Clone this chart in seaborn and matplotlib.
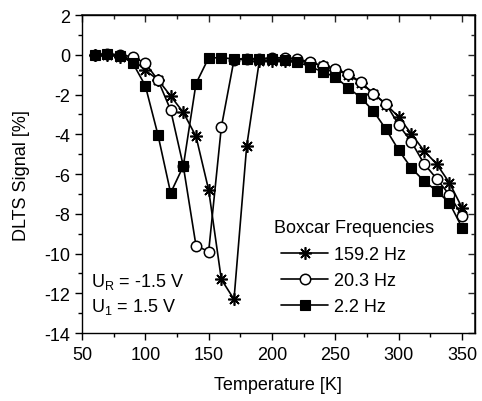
import matplotlib
matplotlib.use("Agg")
import matplotlib.pyplot as plt
from matplotlib.lines import Line2D
from matplotlib.ticker import MultipleLocator
import numpy as np
import pandas as pd
import seaborn as sns

# Temperature scan [K]
temperature = list(range(60, 351, 10))

# DLTS signal [%] for each boxcar frequency
signal_159 = [0, 0, -0.1, -0.22, -0.78, -1.25, -2.07, -2.9, -4.1, -6.8,
              -11.3, -12.3, -4.6, -0.3, -0.3, -0.3, -0.3, -0.4, -0.55, -0.75,
              -1.0, -1.4, -1.95, -2.5, -3.13, -3.98, -4.83, -5.5, -6.44, -7.7]
signal_20 = [0, 0.05, 0, -0.1, -0.42, -1.27, -2.78, -5.6, -9.6, -9.9,
             -3.64, -0.25, -0.2, -0.2, -0.15, -0.15, -0.21, -0.36, -0.56, -0.7,
             -0.96, -1.37, -1.95, -2.47, -3.53, -4.38, -5.48, -6.24, -7.05, -8.1]
signal_2 = [0, 0.05, -0.05, -0.4, -1.55, -4.03, -6.95, -5.6, -1.45, -0.15,
            -0.15, -0.2, -0.2, -0.2, -0.2, -0.25, -0.35, -0.6, -0.85, -1.12,
            -1.65, -2.15, -2.83, -3.75, -4.8, -5.7, -6.35, -6.85, -7.45, -8.7]

series_labels = ["159.2 Hz", "20.3 Hz", "2.2 Hz"]
legend_title = "Boxcar Frequencies"

sns.set_theme(style="ticks")
plt.rcParams["font.family"] = ["Liberation Sans", "DejaVu Sans"]
plt.rcParams["axes.unicode_minus"] = False
plt.rcParams["text.color"] = "black"
plt.rcParams["axes.labelcolor"] = "black"
plt.rcParams["mathtext.fontset"] = "custom"
plt.rcParams["mathtext.rm"] = "Liberation Sans"
plt.rcParams["mathtext.it"] = "Liberation Sans"

fig = plt.figure(figsize=(4.82, 4.02), dpi=100)
ax = fig.add_axes([0.170, 0.169, 0.815, 0.791])

styles = {
    "159.2 Hz": dict(marker=(8, 2, 0), markersize=9, markeredgewidth=1.2,
                     markerfacecolor="black", markeredgecolor="black"),
    "20.3 Hz": dict(marker="o", markersize=7.5, markeredgewidth=1.1,
                    markerfacecolor="white", markeredgecolor="black"),
    "2.2 Hz": dict(marker="s", markersize=7, markeredgewidth=0.8,
                   markerfacecolor="black", markeredgecolor="black"),
}

data = {"159.2 Hz": signal_159, "20.3 Hz": signal_20, "2.2 Hz": signal_2}
for label in series_labels:
    df = pd.DataFrame({"T": temperature, "S": data[label]})
    sns.lineplot(data=df, x="T", y="S", ax=ax, color="black", linewidth=1.2,
                 legend=False, **styles[label])

ax.set_xlim(50, 360)
ax.set_ylim(-14, 2)
ax.xaxis.set_major_locator(MultipleLocator(50))
ax.xaxis.set_minor_locator(MultipleLocator(25))
ax.yaxis.set_major_locator(MultipleLocator(2))
ax.yaxis.set_minor_locator(MultipleLocator(1))

ax.tick_params(which="both", direction="out", colors="black", labelsize=13,
               width=1.0, top=False, right=False)
ax.tick_params(which="major", length=5)
ax.tick_params(which="minor", length=3)
ax.tick_params(axis="x", pad=4)

# Mirrored inward ticks on top and right
sec_x = ax.secondary_xaxis("top")
sec_x.xaxis.set_major_locator(MultipleLocator(50))
sec_x.xaxis.set_minor_locator(MultipleLocator(25))
sec_x.tick_params(which="both", direction="in", labeltop=False, width=1.0)
sec_x.tick_params(which="major", length=5)
sec_x.tick_params(which="minor", length=3)
sec_y = ax.secondary_yaxis("right")
sec_y.yaxis.set_major_locator(MultipleLocator(2))
sec_y.yaxis.set_minor_locator(MultipleLocator(1))
sec_y.tick_params(which="both", direction="in", labelright=False, width=1.0)
sec_y.tick_params(which="major", length=5)
sec_y.tick_params(which="minor", length=3)

for sp in ax.spines.values():
    sp.set_color("black")
    sp.set_linewidth(1.0)

ax.set_xlabel("Temperature [K]", fontsize=13, labelpad=10)
ax.set_ylabel("DLTS Signal [%]", fontsize=13, labelpad=10)

ax.text(57.5, -11.4, r"U$_\mathregular{R}$ = -1.5 V", fontsize=13,
        va="center", ha="left")
ax.text(57.5, -12.65, r"U$_\mathregular{1}$ = 1.5 V", fontsize=13,
        va="center", ha="left")

# Legend: title sits a little left of the handles
ax.text(0.490, 0.333, legend_title, transform=ax.transAxes, fontsize=13,
        va="center", ha="left")
handles = [Line2D([], [], color="black", linewidth=1.2, **styles[l])
           for l in series_labels]
leg = ax.legend(handles, series_labels, loc="upper left",
                bbox_to_anchor=(0.508, 0.274), frameon=False,
                fontsize=13, handlelength=2.6, handletextpad=0.3,
                labelspacing=0.5, borderaxespad=0, borderpad=0)

fig.savefig("out.png", dpi=100)
